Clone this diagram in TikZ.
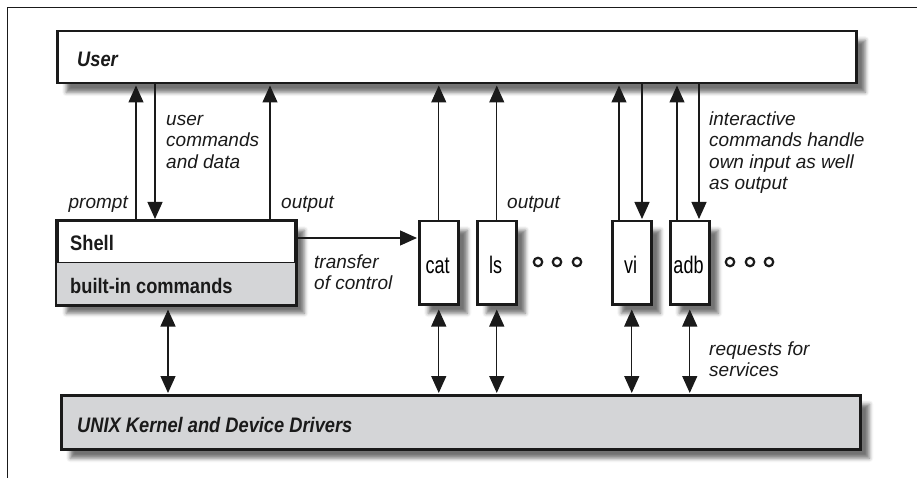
\documentclass[tikz,border=0pt]{standalone}
\usepackage{fontspec}
\setmainfont{Liberation Sans}
\newfontfamily\condfont[FakeStretch=0.75]{Liberation Sans}
\newfontfamily\boldcond[FakeStretch=0.87]{Liberation Sans Bold}
\newfontfamily\boldcondit[FakeStretch=0.87]{Liberation Sans Bold Italic}
\usetikzlibrary{arrows.meta,shadows.blur}
\definecolor{boxgray}{HTML}{D4D5D7}
\definecolor{ink}{HTML}{1A1A1A}
\tikzset{
  box/.style={draw=ink, line width=2.5pt, fill=white, inner sep=0pt, anchor=north west,
    blur shadow={shadow xshift=9pt, shadow yshift=-9pt, shadow blur radius=4pt, shadow opacity=55}},
  cmdbox/.style={box, minimum width=39pt, minimum height=83pt},
  cmdtxt/.style={font=\condfont\fontsize{24}{26}\selectfont, inner sep=0pt, anchor=base},
  arr/.style={draw=ink, line width=1.3pt, -{Triangle[width=15pt,length=17pt]}},
  biarr/.style={draw=ink, line width=1.3pt, {Triangle[width=15pt,length=17pt]}-{Triangle[width=15pt,length=17pt]}},
  lbl/.style={font=\itshape\fontsize{19}{21.5}\selectfont, align=left, inner sep=0pt, text=ink},
  btxt/.style={font=\boldcond\fontsize{21}{24}\selectfont, inner sep=0pt, anchor=base west, text=ink},
  bitxt/.style={font=\boldcondit\fontsize{21}{24}\selectfont, inner sep=0pt, anchor=base west, text=ink},
  dot/.style={circle, draw=ink, line width=2.2pt, minimum size=8.5pt, inner sep=0pt},
}
\begin{document}
\begin{tikzpicture}[x=1pt,y=-1pt]
\useasboundingbox (0,0) rectangle (917,478);
% frame
\coordinate (fb) at (7,478);
\coordinate (fc) at (7,8);
\coordinate (fr) at (917,8);
\draw[ink, line width=1pt] (fb) -- (fc) -- (fr);

% boxes
\node[box, minimum width=799pt, minimum height=52pt] (user) at (56,30) {};
\node[bitxt] (usertxt) at (77,67) {User};

\node[box, minimum width=238pt, minimum height=83pt] (shell) at (56,220) {};
\fill[boxgray] (shell.west) rectangle (shell.south east);
\draw[ink, line width=1pt] (shell.west) -- (shell.east);
\draw[ink, line width=2.5pt] (shell.north west) rectangle (shell.south east);
\node[btxt] (shelltxt) at (70,250) {Shell};
\node[btxt] (builtin) at (70,293) {built-in commands};

\node[cmdbox] (cat) at (418,220) {};
\node[cmdbox] (ls) at (476,220) {};
\node[cmdbox] (vi) at (611,220) {};
\node[cmdbox] (adb) at (669,220) {};
\node[cmdtxt] (cattxt) at (437.5,273) {cat};
\node[cmdtxt] (lstxt) at (495.5,273) {ls};
\node[cmdtxt] (vitxt) at (630.5,273) {vi};
\node[cmdtxt] (adbtxt) at (688.5,273) {adb};

\node[box, fill=boxgray, minimum width=799pt, minimum height=54pt] (kernel) at (60,394) {};
\node[bitxt] (kerneltxt) at (77,432) {UNIX Kernel and Device Drivers};

% dots
\node[dot] (d1) at (538,262) {};
\node[dot] (d2) at (557,262) {};
\node[dot] (d3) at (577,262) {};
\node[dot] (d4) at (730,262) {};
\node[dot] (d5) at (750,262) {};
\node[dot] (d6) at (769,262) {};

% arrows user <-> shell
\draw[arr, shorten >=1pt] (136,0 |- shell.north) -- (136,0 |- user.south);
\draw[arr, shorten >=1pt] (155,0 |- user.south) -- (155,0 |- shell.north);
\draw[arr, shorten >=1pt] (270,0 |- shell.north) -- (270,0 |- user.south);
% commands
\draw[arr, shorten >=1pt] (cat.north) -- (cat.north |- user.south);
\draw[arr, shorten >=1pt] (ls.north) -- (ls.north |- user.south);
\draw[arr, shorten >=1pt] (619,0 |- vi.north) -- (619,0 |- user.south);
\draw[arr, shorten >=1pt] (642,0 |- user.south) -- (642,0 |- vi.north);
\draw[arr, shorten >=1pt] (677,0 |- adb.north) -- (677,0 |- user.south);
\draw[arr, shorten >=1pt] (699,0 |- user.south) -- (699,0 |- adb.north);
% transfer
\draw[arr, shorten >=1pt] (shell.east |- 0,238) -- (cat.west |- 0,238);
% kernel
\draw[biarr, shorten <=4pt, shorten >=1pt] (168,0 |- shell.south) -- (168,0 |- kernel.north);
\draw[biarr, shorten <=4pt, shorten >=1pt] (cat.south) -- (cat.south |- kernel.north);
\draw[biarr, shorten <=4pt, shorten >=1pt] (ls.south) -- (ls.south |- kernel.north);
\draw[biarr, shorten <=4pt, shorten >=1pt] (vi.south) -- (vi.south |- kernel.north);
\draw[biarr, shorten <=4pt, shorten >=1pt] (adb.south) -- (adb.south |- kernel.north);

% labels
\node[lbl, anchor=north west] (ucd) at (166,110) {\strut user\\commands\\and data};
\node[lbl, anchor=base east] (prompt) at (128,208) {prompt};
\node[lbl, anchor=base west] (out1) at (281,208) {output};
\node[lbl, anchor=base west] (out2) at (507,208) {output};
\node[lbl, anchor=north west] (inter) at (709,110) {\strut interactive\\commands handle\\own input as well\\as output};
\node[lbl, anchor=north west] (transfer) at (314,253) {\strut transfer\\of control};
\node[lbl, anchor=north west] (req) at (709,340) {\strut requests for\\services};
\end{tikzpicture}
\end{document}
